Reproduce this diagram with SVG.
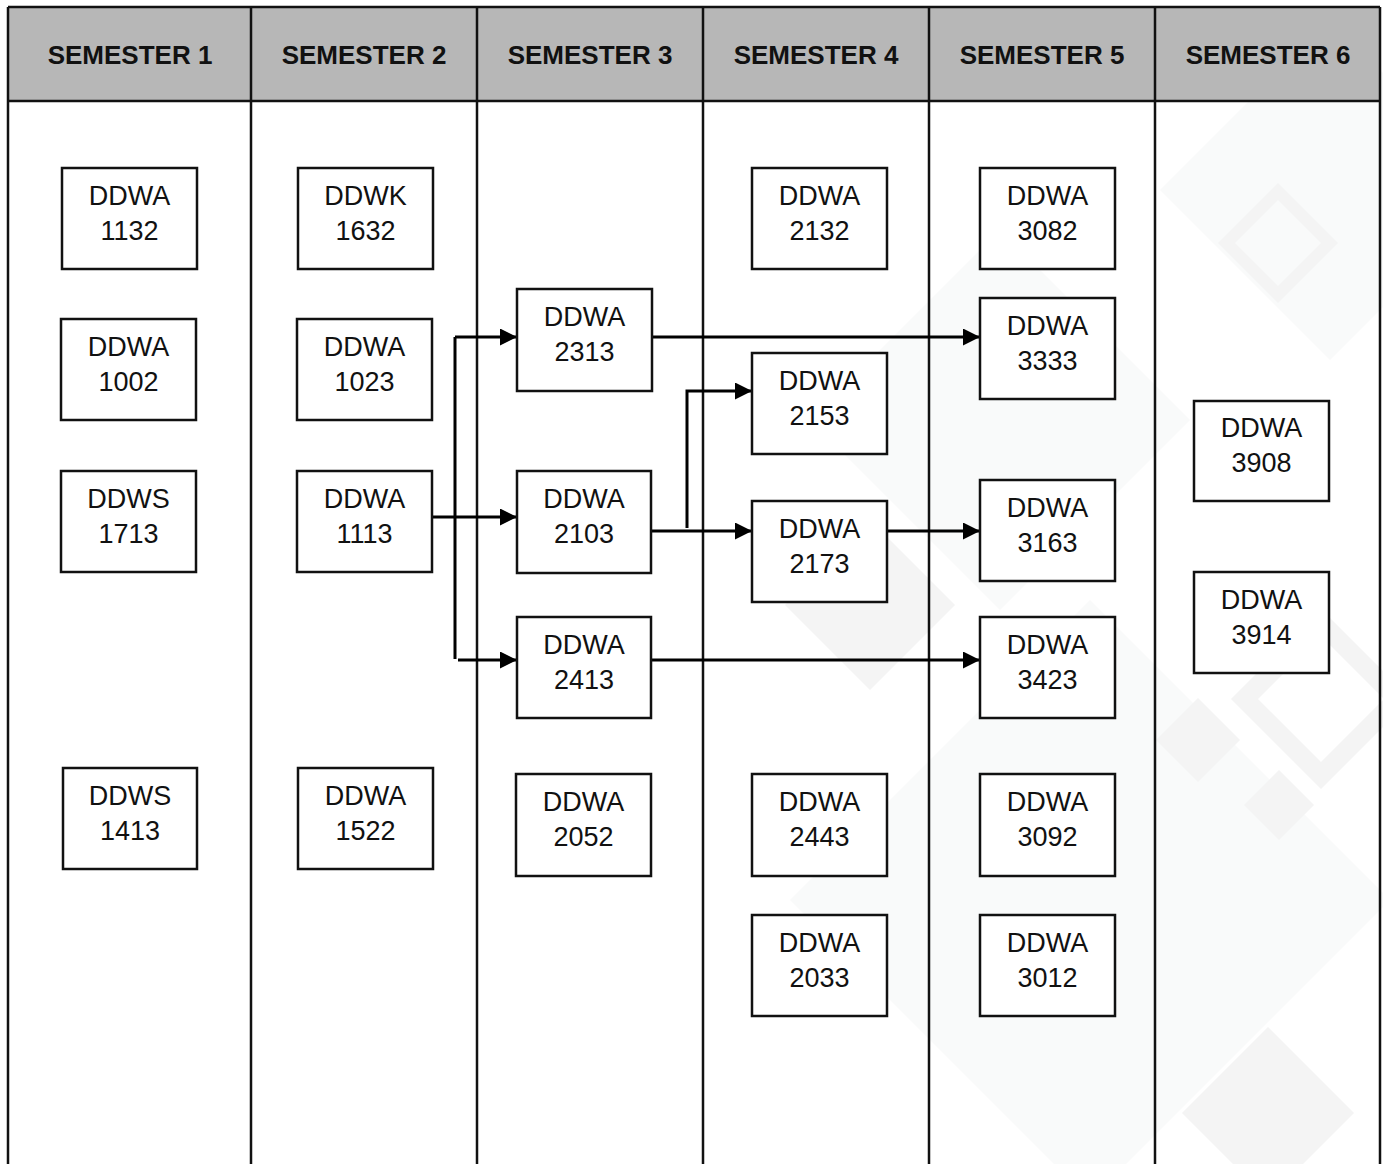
<svg xmlns="http://www.w3.org/2000/svg" width="1383" height="1164" viewBox="0 0 1383 1164">
<style>
.hdr{font-family:"Liberation Sans",Arial,sans-serif;font-weight:bold;font-size:26px;fill:#111;text-anchor:middle}
.box rect{fill:#fff;stroke:#111;stroke-width:2.5}
.box text{font-family:"Liberation Sans",Arial,sans-serif;font-size:27px;fill:#111;text-anchor:middle}
.grid{stroke:#111;stroke-width:2.5;fill:none}
.conn{stroke:#000;stroke-width:3;fill:none}
.wm1{fill:#f4f4f4}
.wm2{fill:#f9fafa}
</style>
<defs>
<marker id="arr" viewBox="0 0 17 17" refX="17" refY="8.5" markerWidth="17" markerHeight="17" markerUnits="userSpaceOnUse" orient="auto">
<path d="M0,0 L17,8.5 L0,17 z" fill="#000"/>
</marker>
</defs>
<rect x="0" y="0" width="1383" height="1164" fill="#fff"/>
<g id="watermark">
<polygon class="wm2" points="1090,600 1390,900 1090,1200 790,900"/>
<polygon class="wm2" points="1330,20 1500,190 1330,360 1160,190"/>
<polygon class="wm2" points="1000,230 1190,420 1000,610 810,420"/>
<path class="wm1" fill-rule="evenodd" d="M1278,183 L1338,243 L1278,303 L1218,243 Z M1278,200 L1235,243 L1278,286 L1321,243 Z"/>
<polygon class="wm1" points="870,520 955,605 870,690 785,605"/>
<polygon class="wm1" points="1198,698 1240,740 1198,782 1156,740"/>
<polygon class="wm1" points="1279,770 1314,805 1279,840 1244,805"/>
<path class="wm1" fill-rule="evenodd" d="M1321,609 L1411,699 L1321,789 L1231,699 Z M1321,636 L1258,699 L1321,762 L1384,699 Z"/>
<polygon class="wm1" points="1268,1027 1354,1113 1268,1199 1182,1113"/>
</g>
<g id="table">
<rect x="8" y="7" width="1372" height="94" fill="#b7b7b7"/>
<path class="grid" d="M8,7 H1380 M8,101 H1380 M8,7 V1164 M251,7 V1164 M477,7 V1164 M703,7 V1164 M929,7 V1164 M1155,7 V1164 M1380,7 V1164"/>
<text class="hdr" x="130" y="64">SEMESTER 1</text>
<text class="hdr" x="364" y="64">SEMESTER 2</text>
<text class="hdr" x="590" y="64">SEMESTER 3</text>
<text class="hdr" x="816" y="64">SEMESTER 4</text>
<text class="hdr" x="1042" y="64">SEMESTER 5</text>
<text class="hdr" x="1268" y="64">SEMESTER 6</text>
</g>
<g id="connectors">
<path class="conn" d="M455,337 V659"/>
<path class="conn" d="M455,337 H517" marker-end="url(#arr)"/>
<path class="conn" d="M432,517 H517" marker-end="url(#arr)"/>
<path class="conn" d="M458,660 H517" marker-end="url(#arr)"/>
<path class="conn" d="M652,337 H980" marker-end="url(#arr)"/>
<path class="conn" d="M651,531 H752" marker-end="url(#arr)"/>
<path class="conn" d="M687,528 V391 H752" marker-end="url(#arr)"/>
<path class="conn" d="M887,531 H980" marker-end="url(#arr)"/>
<path class="conn" d="M651,660 H980" marker-end="url(#arr)"/>
</g>
<g id="n1132" class="box"><rect x="62" y="168" width="135" height="101"/><text x="129.5" y="205">DDWA</text><text x="129.5" y="240">1132</text></g>
<g id="n1002" class="box"><rect x="61" y="319" width="135" height="101"/><text x="128.5" y="356">DDWA</text><text x="128.5" y="391">1002</text></g>
<g id="n1713" class="box"><rect x="61" y="471" width="135" height="101"/><text x="128.5" y="508">DDWS</text><text x="128.5" y="543">1713</text></g>
<g id="n1413" class="box"><rect x="63" y="768" width="134" height="101"/><text x="130" y="805">DDWS</text><text x="130" y="840">1413</text></g>
<g id="n1632" class="box"><rect x="298" y="168" width="135" height="101"/><text x="365.5" y="205">DDWK</text><text x="365.5" y="240">1632</text></g>
<g id="n1023" class="box"><rect x="297" y="319" width="135" height="101"/><text x="364.5" y="356">DDWA</text><text x="364.5" y="391">1023</text></g>
<g id="n1113" class="box"><rect x="297" y="471" width="135" height="101"/><text x="364.5" y="508">DDWA</text><text x="364.5" y="543">1113</text></g>
<g id="n1522" class="box"><rect x="298" y="768" width="135" height="101"/><text x="365.5" y="805">DDWA</text><text x="365.5" y="840">1522</text></g>
<g id="n2313" class="box"><rect x="517" y="289" width="135" height="102"/><text x="584.5" y="326">DDWA</text><text x="584.5" y="361">2313</text></g>
<g id="n2103" class="box"><rect x="517" y="471" width="134" height="102"/><text x="584" y="508">DDWA</text><text x="584" y="543">2103</text></g>
<g id="n2413" class="box"><rect x="517" y="617" width="134" height="101"/><text x="584" y="654">DDWA</text><text x="584" y="689">2413</text></g>
<g id="n2052" class="box"><rect x="516" y="774" width="135" height="102"/><text x="583.5" y="811">DDWA</text><text x="583.5" y="846">2052</text></g>
<g id="n2132" class="box"><rect x="752" y="168" width="135" height="101"/><text x="819.5" y="205">DDWA</text><text x="819.5" y="240">2132</text></g>
<g id="n2153" class="box"><rect x="752" y="353" width="135" height="101"/><text x="819.5" y="390">DDWA</text><text x="819.5" y="425">2153</text></g>
<g id="n2173" class="box"><rect x="752" y="501" width="135" height="101"/><text x="819.5" y="538">DDWA</text><text x="819.5" y="573">2173</text></g>
<g id="n2443" class="box"><rect x="752" y="774" width="135" height="102"/><text x="819.5" y="811">DDWA</text><text x="819.5" y="846">2443</text></g>
<g id="n2033" class="box"><rect x="752" y="915" width="135" height="101"/><text x="819.5" y="952">DDWA</text><text x="819.5" y="987">2033</text></g>
<g id="n3082" class="box"><rect x="980" y="168" width="135" height="101"/><text x="1047.5" y="205">DDWA</text><text x="1047.5" y="240">3082</text></g>
<g id="n3333" class="box"><rect x="980" y="298" width="135" height="101"/><text x="1047.5" y="335">DDWA</text><text x="1047.5" y="370">3333</text></g>
<g id="n3163" class="box"><rect x="980" y="480" width="135" height="101"/><text x="1047.5" y="517">DDWA</text><text x="1047.5" y="552">3163</text></g>
<g id="n3423" class="box"><rect x="980" y="617" width="135" height="101"/><text x="1047.5" y="654">DDWA</text><text x="1047.5" y="689">3423</text></g>
<g id="n3092" class="box"><rect x="980" y="774" width="135" height="102"/><text x="1047.5" y="811">DDWA</text><text x="1047.5" y="846">3092</text></g>
<g id="n3012" class="box"><rect x="980" y="915" width="135" height="101"/><text x="1047.5" y="952">DDWA</text><text x="1047.5" y="987">3012</text></g>
<g id="n3908" class="box"><rect x="1194" y="401" width="135" height="100"/><text x="1261.5" y="437">DDWA</text><text x="1261.5" y="472">3908</text></g>
<g id="n3914" class="box"><rect x="1194" y="572" width="135" height="101"/><text x="1261.5" y="609">DDWA</text><text x="1261.5" y="644">3914</text></g>
</svg>
